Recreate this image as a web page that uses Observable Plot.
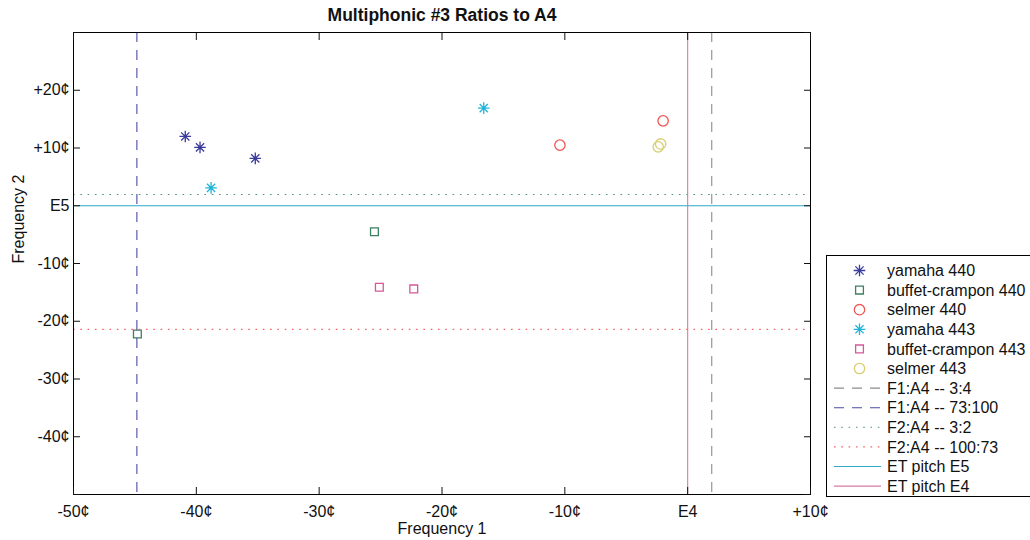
<!DOCTYPE html>
<html><head><meta charset="utf-8">
<script src="https://cdn.jsdelivr.net/npm/d3@7"></script>
<script src="https://cdn.jsdelivr.net/npm/@observablehq/plot@0.6"></script>
<style>body{margin:0;background:#fff;}</style>
</head><body><div id="chart"></div>
<script>
// ---- data ----
const seriesNames = ["yamaha 440","buffet-crampon 440","selmer 440","yamaha 443","buffet-crampon 443","selmer 443"];
const seriesShapes = ["asterisk","square","circle","asterisk","square","circle"];
const seriesColors = ["#3b3b9e","#3f7f62","#f25454","#22b4d8","#d4589a","#d8cf72"];

const yamaha440F1 = [-40.9, -39.7, -35.2];
const yamaha440F2 = [12.0, 10.1, 8.2];
const buffet440F1 = [-25.5, -44.8];
const buffet440F2 = [-4.5, -22.2];
const selmer440F1 = [-10.4, -2.0];
const selmer440F2 = [10.5, 14.7];
const yamaha443F1 = [-38.8, -16.6];
const yamaha443F2 = [3.1, 16.9];
const buffet443F1 = [-25.1, -22.3];
const buffet443F2 = [-14.1, -14.4];
const selmer443F1 = [-2.4, -2.2];
const selmer443F2 = [10.2, 10.7];

const refNames = ["F1:A4 -- 3:4","F1:A4 -- 73:100","F2:A4 -- 3:2","F2:A4 -- 100:73","ET pitch E5","ET pitch E4"];
const refAxis = ["x","x","y","y","y","x"];
const refValues = [1.96, -44.84, 1.96, -21.4, 0, 0];
const refColors = ["#8c8c8c","#4a4aa8","#4f9377","#f26262","#2ea9c9","#d77aa9"];
const refDash = ["10,8","10,8","1.6,5.7","1.6,5.7",null,null];

const xTicks = [-50,-40,-30,-20,-10,0,10];
const xTickLabels = ["-50¢","-40¢","-30¢","-20¢","-10¢","E4","+10¢"];
const yTickMarks = [-50,-40,-30,-20,-10,0,10,20,30];
const yTicks = [-40,-30,-20,-10,0,10,20];
const yTickLabels = ["-40¢","-30¢","-20¢","-10¢","E5","+10¢","+20¢"];

// ---- build ----
const seriesF1 = [yamaha440F1, buffet440F1, selmer440F1, yamaha443F1, buffet443F1, selmer443F1];
const seriesF2 = [yamaha440F2, buffet440F2, selmer440F2, yamaha443F2, buffet443F2, selmer443F2];

const asterisk8 = {draw(ctx, size) {
  const r = Math.sqrt(size / Math.PI), d = r * Math.SQRT1_2;
  ctx.moveTo(-r, 0); ctx.lineTo(r, 0);
  ctx.moveTo(0, -r); ctx.lineTo(0, r);
  ctx.moveTo(-d, -d); ctx.lineTo(d, d);
  ctx.moveTo(-d, d); ctx.lineTo(d, -d);
}};
const shapeSym = {asterisk: asterisk8, square: d3.symbolSquare, circle: d3.symbolCircle};
const shapeR = {asterisk: 5.8, square: 4.4, circle: 5.2};

const FONT = "'Liberation Sans', Arial, Helvetica, sans-serif";

const dotMarks = seriesNames.map((name, i) => {
  const rows = seriesF1[i].map((f1, j) => ({f1, f2: seriesF2[i][j]}));
  return Plot.dot(rows, {x: "f1", y: "f2", symbol: shapeSym[seriesShapes[i]], r: shapeR[seriesShapes[i]],
    stroke: seriesColors[i], fill: "none", strokeWidth: 1.3});
});

const refMarks = refNames.map((name, i) => {
  const opts = {stroke: refColors[i], strokeWidth: 1.1, strokeDasharray: refDash[i] || undefined};
  return refAxis[i] === "x" ? Plot.ruleX([refValues[i]], opts) : Plot.ruleY([refValues[i]], opts);
});

const xLabelOf = d => xTickLabels[xTicks.indexOf(d)];
const yLabelOf = d => yTickLabels[yTicks.indexOf(d)];

const chart = Plot.plot({
  width: 1030, height: 540,
  marginLeft: 73, marginRight: 220, marginTop: 32, marginBottom: 46,
  style: {fontFamily: FONT, fontSize: "16px", color: "#111", background: "white"},
  x: {domain: [-50, 10]},
  y: {domain: [-50, 30]},
  marks: [
    ...dotMarks,
    ...refMarks,
    Plot.frame({stroke: "black", strokeWidth: 1}),
    Plot.axisX(xTicks, {anchor: "bottom", tickSize: 0, tickPadding: 11, tickFormat: xLabelOf, label: null, fontSize: 16}),
    Plot.axisX(xTicks, {anchor: "bottom", tickSize: -7, tickFormat: () => "", label: null}),
    Plot.axisX(xTicks, {anchor: "top", tickSize: -7, tickFormat: () => "", label: null}),
    Plot.axisY(yTicks, {anchor: "left", tickSize: 0, tickPadding: 4, tickFormat: yLabelOf, label: null, fontSize: 16}),
    Plot.axisY(yTickMarks, {anchor: "left", tickSize: -7, tickFormat: () => "", label: null}),
    Plot.axisY(yTickMarks, {anchor: "right", tickSize: -7, tickFormat: () => "", label: null}),
    Plot.text(["Multiphonic #3 Ratios to A4"], {frameAnchor: "top", dy: -24, fontWeight: "bold", fontSize: 17.5, fill: "#111"}),
    Plot.text(["Frequency 1"], {frameAnchor: "bottom", dy: 39, fontSize: 16, fill: "#111"}),
    Plot.text(["Frequency 2"], {frameAnchor: "left", dx: -55, rotate: -90, fontSize: 16, fill: "#111"})
  ]
});
document.getElementById("chart").appendChild(chart);

// ---- legend ----
const svg = d3.select(chart);
const lg = svg.append("g").attr("font-family", FONT).attr("font-size", 16).attr("fill", "#111")
  .attr("text-anchor", "start");
lg.append("rect").attr("x", 826.5).attr("y", 255.5).attr("width", 215).attr("height", 241)
  .attr("fill", "white").attr("stroke", "black").attr("stroke-width", 1);
const entries = [
  ...seriesNames.map((n, i) => ({name: n, kind: "marker", shape: seriesShapes[i], color: seriesColors[i]})),
  ...refNames.map((n, i) => ({name: n, kind: "line", color: refColors[i], dash: refDash[i]}))
];
entries.forEach((e, i) => {
  const cy = 270.5 + i * 19.6;
  if (e.kind === "marker") {
    const r = shapeR[e.shape];
    lg.append("path").attr("transform", `translate(859.5,${cy})`)
      .attr("d", d3.symbol(shapeSym[e.shape], Math.PI * r * r)())
      .attr("fill", "none").attr("stroke", e.color).attr("stroke-width", 1.3);
  } else {
    lg.append("line").attr("x1", 834).attr("x2", 881).attr("y1", cy).attr("y2", cy)
      .attr("stroke", e.color).attr("stroke-width", 1.1).attr("stroke-dasharray", e.dash);
  }
  lg.append("text").attr("x", 887).attr("y", cy).attr("dy", "0.35em").attr("text-anchor", "start").text(e.name);
});
</script>
</body></html>
